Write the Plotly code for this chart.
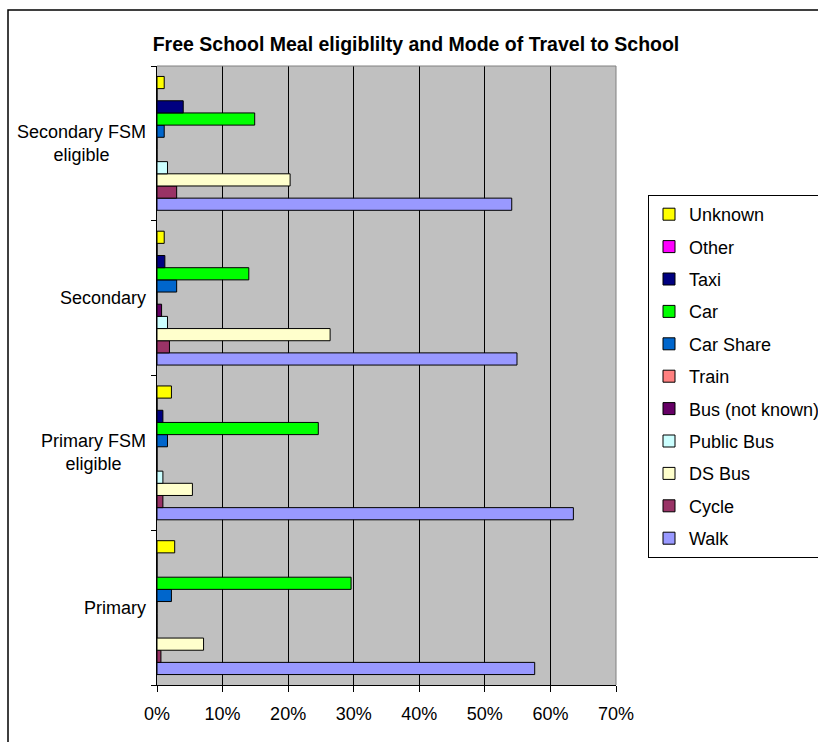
import plotly.graph_objects as go

categories = ["Primary", "Primary FSM eligible", "Secondary", "Secondary FSM eligible"]
category_labels = ["Primary", "Primary FSM<br>eligible", "Secondary", "Secondary FSM<br>eligible"]

series_names = ["Walk", "Cycle", "DS Bus", "Public Bus", "Bus (not known)", "Train",
                "Car Share", "Car", "Taxi", "Other", "Unknown"]

walk = [57.6, 63.5, 54.9, 54.1]
cycle = [0.6, 0.9, 1.9, 3.0]
ds_bus = [7.1, 5.4, 26.4, 20.3]
public_bus = [0.0, 0.9, 1.6, 1.6]
bus_not_known = [0.0, 0.0, 0.7, 0.0]
train = [0.0, 0.0, 0.0, 0.0]
car_share = [2.2, 1.6, 3.0, 1.1]
car = [29.6, 24.6, 14.0, 14.9]
taxi = [0.0, 0.9, 1.2, 4.0]
other = [0.0, 0.0, 0.0, 0.0]
unknown = [2.7, 2.2, 1.1, 1.1]

series_values = [walk, cycle, ds_bus, public_bus, bus_not_known, train,
                 car_share, car, taxi, other, unknown]
series_colors = ["#9999FF", "#993366", "#FFFFCC", "#CCFFFF", "#660066", "#FF8080",
                 "#0066CC", "#00FF00", "#000080", "#FF00FF", "#FFFF00"]

x_ticks = [0, 10, 20, 30, 40, 50, 60, 70]
x_tick_labels = ["0%", "10%", "20%", "30%", "40%", "50%", "60%", "70%"]

FONT = "Liberation Sans, Arial, sans-serif"

fig = go.Figure()
n = len(series_names)
for i, (name, vals, col) in enumerate(zip(series_names, series_values, series_colors)):
    fig.add_trace(go.Bar(
        y=categories, x=vals, name=name, orientation="h",
        marker=dict(color=col, line=dict(color="black", width=1)),
        legendgroup=name, legendrank=100 + (n - i),
    ))

# plot area geometry (px)
L, R, T, B = 157, 616, 66, 685
W, H = 818, 742
pw, ph = R - L, B - T

def px_x(p):
    return (p - L) / pw

def px_y(p):
    return (B - p) / ph

fig.update_layout(
    width=W, height=H,
    margin=dict(l=L, r=W - R, t=T, b=H - B, pad=0, autoexpand=False),
    paper_bgcolor="white",
    plot_bgcolor="#C0C0C0",
    barmode="group",
    bargap=0.135,
    bargroupgap=0,
    font=dict(family=FONT, size=18, color="black"),
    title=dict(
        text="<b>Free School Meal eligiblilty and Mode of Travel to School</b>",
        font=dict(family=FONT, size=19.5, color="black"),
        x=px_x(416), xref="paper", xanchor="center",
        y=1 - 44 / H, yref="container", yanchor="middle",
    ),
    xaxis=dict(
        range=[0, 70], tickmode="array", tickvals=x_ticks, ticktext=x_tick_labels,
        showgrid=True, gridcolor="black", gridwidth=1,
        showline=True, linecolor="black", linewidth=1,
        ticks="outside", ticklen=6, tickcolor="black",
        zeroline=False, fixedrange=True,
        tickfont=dict(family=FONT, size=18, color="black"),
        ticklabelstandoff=6,
    ),
    yaxis=dict(
        categoryorder="array", categoryarray=categories,
        showticklabels=False,
        showline=True, linecolor="black", linewidth=1,
        ticks="outside", ticklen=5, tickcolor="black",
        tickson="boundaries", showgrid=False,
    ),
    legend=dict(
        x=px_x(648), y=px_y(195), xanchor="left", yanchor="top",
        traceorder="grouped", tracegroupgap=6,
        bgcolor="white", bordercolor="black", borderwidth=1,
        font=dict(family=FONT, size=18, color="black"),
    ),
    showlegend=True,
)

# category labels as annotations (centred lines, right edge near axis)
for cat, lab in zip(categories, category_labels):
    fig.add_annotation(
        x=0, xref="paper", y=cat, yref="y",
        text=lab, showarrow=False, xanchor="right", yanchor="middle",
        align="center", xshift=-9,
        font=dict(family=FONT, size=18, color="black"),
    )

# plot area gray border on top & right
fig.add_shape(type="line", xref="paper", yref="paper", x0=0, x1=1, y0=1, y1=1,
              line=dict(color="#808080", width=1), layer="above")
fig.add_shape(type="line", xref="paper", yref="paper", x0=1, x1=1, y0=0, y1=1,
              line=dict(color="#808080", width=1), layer="above")

# outer chart border
fig.add_shape(type="rect", xref="paper", yref="paper",
              x0=px_x(8), x1=px_x(840), y0=px_y(770), y1=px_y(10),
              line=dict(color="black", width=1.5), fillcolor="rgba(0,0,0,0)",
              layer="below")

fig.write_html("out.html")
